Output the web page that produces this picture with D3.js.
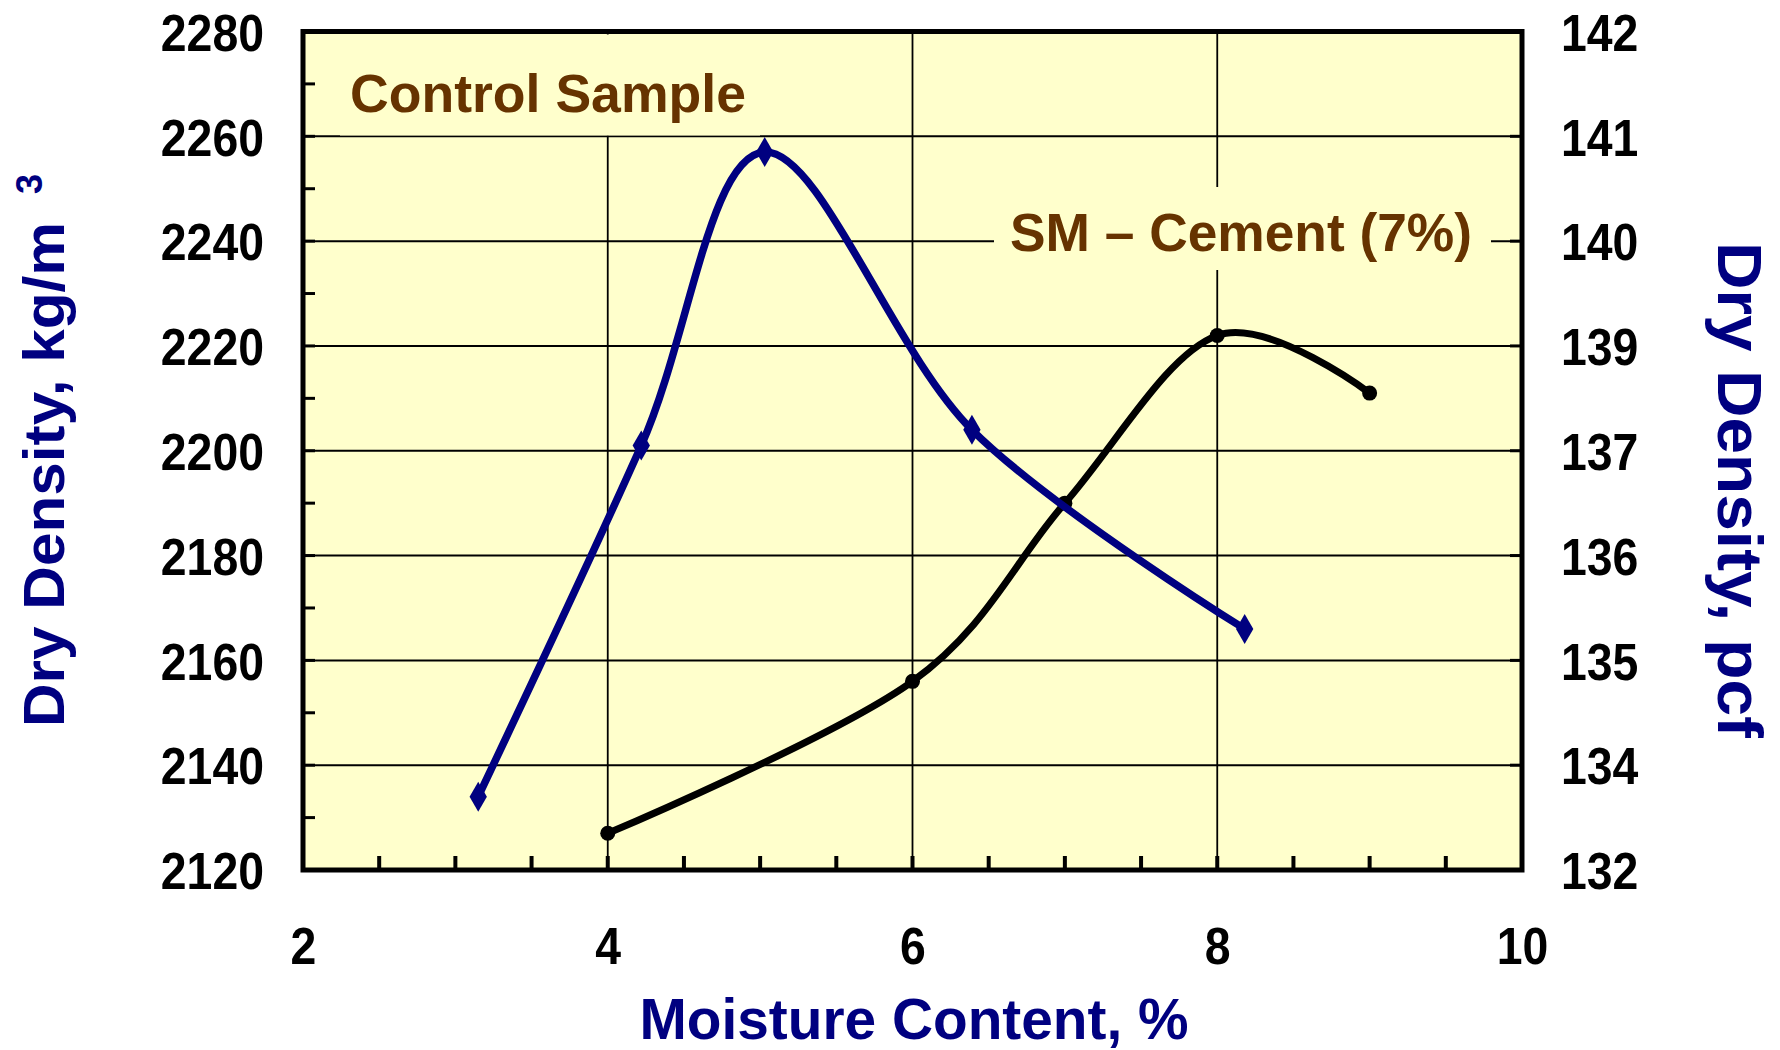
<!DOCTYPE html>
<html>
<head>
<meta charset="utf-8">
<script src="https://cdn.jsdelivr.net/npm/d3@7"></script>
<style>
  html, body { margin: 0; padding: 0; background: #ffffff; }
  svg { display: block; }
</style>
</head>
<body>
<svg id="chart" width="1780" height="1050"></svg>
<script>
// ---- data ----
const controlMoisture = [3.15, 4.22, 5.03, 6.39, 8.18];
const controlDensity  = [2134, 2201, 2257, 2204, 2166];
const cementMoisture  = [4.0, 6.0, 7.0, 8.0, 9.0];
const cementDensity   = [2127, 2156, 2190, 2222, 2211];
const xTickValues = [2, 4, 6, 8, 10];
const yTickValues = [2120, 2140, 2160, 2180, 2200, 2220, 2240, 2260, 2280];
const pcfTickLabels = ["132", "134", "135", "136", "137", "139", "140", "141", "142"];
const seriesNames = ["Control Sample", "SM \u2013 Cement (7%)"];

// ---- layout ----
const svg = d3.select("#chart");
const L = 303, R = 1522, T = 31.5, B = 870;
const x = d3.scaleLinear().domain([2, 10]).range([L, R]);
const y = d3.scaleLinear().domain([2120, 2280]).range([B, T]);
const navy = "#000080", brown = "#663300", bg = "#FFFFCC";
const tickFont = "'Liberation Sans Narrow','Arial Narrow','Liberation Sans',Arial,sans-serif";
const titleFont = "'Liberation Sans',Arial,sans-serif";

// plot background
svg.append("rect").attr("x", L).attr("y", T).attr("width", R - L).attr("height", B - T).attr("fill", bg);

// gridlines
const grid = svg.append("g").attr("stroke", "#000");
grid.selectAll("line.h").data(yTickValues.slice(1, -1)).join("line")
  .attr("x1", L).attr("x2", R).attr("y1", d => y(d)).attr("y2", d => y(d)).attr("stroke-width", 2);
grid.selectAll("line.v").data(xTickValues.slice(1, -1)).join("line")
  .attr("y1", T).attr("y2", B).attr("x1", d => x(d)).attr("x2", d => x(d)).attr("stroke-width", 1.8);

// annotation boxes (hide gridlines behind labels)
svg.append("rect").attr("x", 340).attr("y", T + 3).attr("width", 420).attr("height", 101).attr("fill", bg);
svg.append("rect").attr("x", 994).attr("y", 187).attr("width", 497).attr("height", 83).attr("fill", bg);

// minor / major ticks inside the frame
const ticks = svg.append("g").attr("stroke", "#000");
ticks.selectAll("line.xt").data(d3.range(2.5, 10, 0.5)).join("line")
  .attr("x1", d => x(d)).attr("x2", d => x(d)).attr("y1", B).attr("y2", B - 14).attr("stroke-width", 4);
ticks.selectAll("line.yl").data(d3.range(2130, 2280, 10)).join("line")
  .attr("x1", L).attr("x2", L + 12).attr("y1", d => y(d)).attr("y2", d => y(d)).attr("stroke-width", 3);
ticks.selectAll("line.yr").data(yTickValues.slice(1, -1)).join("line")
  .attr("x1", R).attr("x2", R - 12).attr("y1", d => y(d)).attr("y2", d => y(d)).attr("stroke-width", 3);

// frame
svg.append("rect").attr("x", L).attr("y", T).attr("width", R - L).attr("height", B - T)
  .attr("fill", "none").attr("stroke", "#000").attr("stroke-width", 5);

// axes labels via d3 axes
const axisLeft = d3.axisLeft(y).tickValues(yTickValues).tickSize(0).tickPadding(0).tickFormat(d3.format("d"));
const gL = svg.append("g").attr("transform", `translate(${L - 39},0)`).call(axisLeft);
const axisRight = d3.axisRight(y).tickValues(yTickValues).tickSize(0).tickPadding(0)
  .tickFormat((d, i) => pcfTickLabels[i]);
const gR = svg.append("g").attr("transform", `translate(${R + 39},0)`).call(axisRight);
const axisBottom = d3.axisBottom(x).tickValues(xTickValues).tickSize(0).tickPadding(0).tickFormat(d3.format("d"));
const gB = svg.append("g").attr("transform", `translate(0,${B + 57})`).call(axisBottom);
[gL, gR, gB].forEach(g => {
  g.select(".domain").remove();
  g.selectAll("text").attr("font-family", tickFont).attr("font-weight", "bold")
    .attr("font-size", 52).attr("fill", "#000")
    .attr("lengthAdjust", "spacingAndGlyphs")
    .attr("textLength", function () { return this.textContent.length * 25.8; });
});
gL.selectAll("text").attr("dy", "0.36em");
gR.selectAll("text").attr("dy", "0.36em");
gB.selectAll("text").attr("dy", "0.71em");

// axis titles
svg.append("text").attr("x", 914).attr("y", 1039).attr("text-anchor", "middle")
  .attr("font-family", titleFont).attr("font-weight", "bold").attr("font-size", 58)
  .attr("fill", navy).attr("textLength", 549).attr("lengthAdjust", "spacingAndGlyphs")
  .text("Moisture Content, %");
svg.append("text").attr("transform", "translate(64,727) rotate(-90)")
  .attr("font-family", titleFont).attr("font-weight", "bold").attr("font-size", 58)
  .attr("fill", navy).attr("textLength", 505).attr("lengthAdjust", "spacingAndGlyphs")
  .text("Dry Density, kg/m");
svg.append("text").attr("transform", "translate(42,194) rotate(-90)")
  .attr("font-family", titleFont).attr("font-weight", "bold").attr("font-size", 36)
  .attr("fill", navy).text("3");
svg.append("text").attr("transform", "translate(1718,242) rotate(90)")
  .attr("font-family", titleFont).attr("font-weight", "bold").attr("font-size", 63)
  .attr("fill", navy).attr("textLength", 496).attr("lengthAdjust", "spacingAndGlyphs")
  .text("Dry Density, pcf");

// annotations
svg.append("text").attr("x", 350).attr("y", 112)
  .attr("font-family", titleFont).attr("font-weight", "bold").attr("font-size", 54)
  .attr("fill", brown).attr("textLength", 396).attr("lengthAdjust", "spacingAndGlyphs")
  .text(seriesNames[0]);
svg.append("text").attr("x", 1010).attr("y", 251)
  .attr("font-family", titleFont).attr("font-weight", "bold").attr("font-size", 54)
  .attr("fill", brown).attr("textLength", 462).attr("lengthAdjust", "spacingAndGlyphs")
  .text(seriesNames[1]);

// series
const line = d3.line().x(d => x(d[0])).y(d => y(d[1])).curve(d3.curveCardinal.tension(0));
const control = controlMoisture.map((m, i) => [m, controlDensity[i]]);
const cement = cementMoisture.map((m, i) => [m, cementDensity[i]]);

svg.append("path").datum(cement).attr("d", line).attr("fill", "none")
  .attr("stroke", "#000").attr("stroke-width", 7).attr("stroke-linejoin", "round");
svg.selectAll("circle.cm").data(cement).join("circle")
  .attr("cx", d => x(d[0])).attr("cy", d => y(d[1])).attr("r", 7.5).attr("fill", "#000");

svg.append("path").datum(control).attr("d", line).attr("fill", "none")
  .attr("stroke", navy).attr("stroke-width", 7.5).attr("stroke-linejoin", "round");
svg.selectAll("path.cd").data(control).join("path")
  .attr("transform", d => `translate(${x(d[0])},${y(d[1])})`)
  .attr("d", d3.symbol(d3.symbolDiamond, 260)).attr("fill", navy);
</script>
</body>
</html>
